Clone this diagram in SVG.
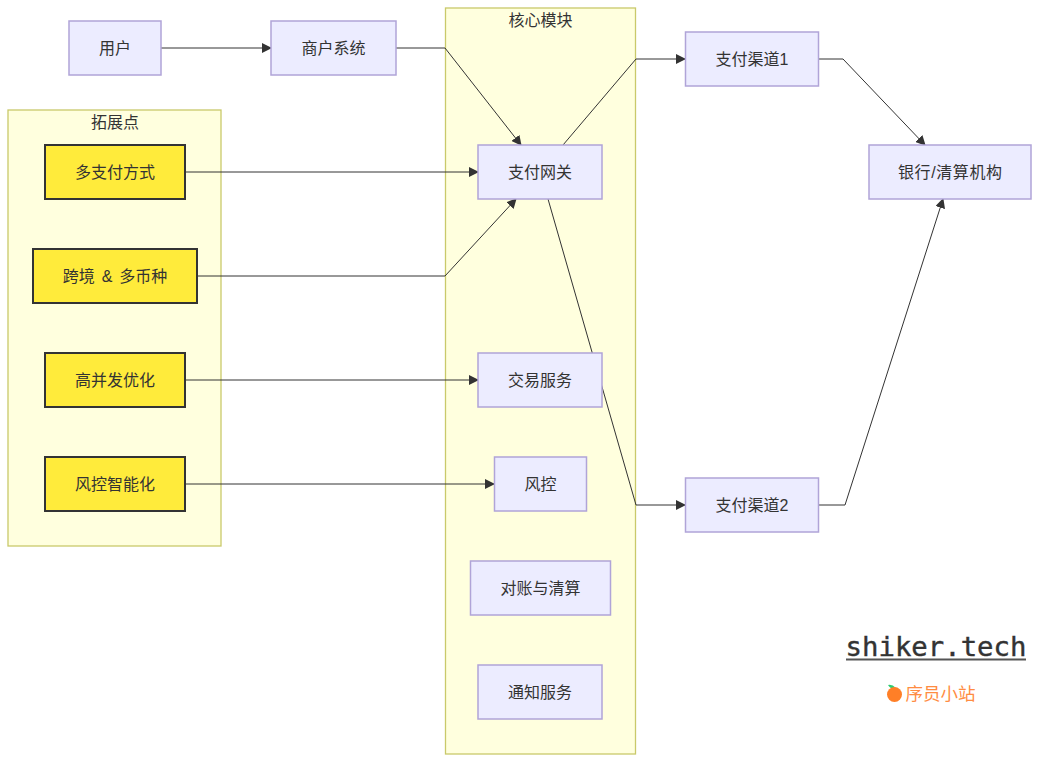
<svg xmlns="http://www.w3.org/2000/svg" width="1040" height="762" viewBox="0 0 1040 762">
<style>
text{font-family:"Liberation Sans","Noto Sans CJK SC",sans-serif;font-size:16px;fill:#333;text-anchor:middle;dominant-baseline:central}
.cluster{fill:#ffffde;stroke:#c9c96a;stroke-width:1.3}
.n rect{fill:#ececff;stroke:#b0a4d8;stroke-width:1.5}
.y rect{fill:#ffeb3b;stroke:#333;stroke-width:2}
.c path{fill:none;stroke:#333;stroke-width:1;marker-end:url(#arrow)}
</style>
<defs>
<marker id="arrow" markerUnits="userSpaceOnUse" markerWidth="10" markerHeight="10" refX="9" refY="5" orient="auto"><path d="M0 0L10 5L0 10Z" fill="#333"/></marker>
</defs>
<rect width="1040" height="762" fill="#fff"/>
<g id="cluster-ext"><rect class="cluster" x="8" y="110" width="213" height="436"/><text x="115" y="122">拓展点</text></g>
<g id="cluster-core"><rect class="cluster" x="445.500" y="8" width="190" height="746"/><text x="540.500" y="20">核心模块</text></g>
<g id="connectors" class="c">
<path d="M161 48H271"/>
<path d="M396 48H445L521 145"/>
<path d="M563 145L636 59H685"/>
<path d="M548 199L636 505H685"/>
<path d="M819 59H843L925 145"/>
<path d="M819 505H845L943 199"/>
<path d="M186 172H478"/>
<path d="M197 276H445L516 199"/>
<path d="M186 380H478"/>
<path d="M186 484H494"/>
</g>
<g id="user" class="n"><rect x="69" y="21" width="92" height="54"/><text x="115" y="48">用户</text></g>
<g id="merchant" class="n"><rect x="271" y="21" width="125" height="54"/><text x="333.500" y="48">商户系统</text></g>
<g id="gateway" class="n"><rect x="478" y="145" width="124" height="54"/><text x="540" y="172">支付网关</text></g>
<g id="trade" class="n"><rect x="478" y="353" width="124" height="54"/><text x="540" y="380">交易服务</text></g>
<g id="risk" class="n"><rect x="494.500" y="457" width="92" height="54"/><text x="540.500" y="484">风控</text></g>
<g id="reconcile" class="n"><rect x="470.500" y="561" width="140" height="54"/><text x="540.500" y="588">对账与清算</text></g>
<g id="notify" class="n"><rect x="478" y="665" width="124" height="54"/><text x="540" y="692">通知服务</text></g>
<g id="channel1" class="n"><rect x="685.500" y="32" width="133" height="54"/><text x="752" y="59">支付渠道1</text></g>
<g id="channel2" class="n"><rect x="685.500" y="478" width="133" height="54"/><text x="752" y="505">支付渠道2</text></g>
<g id="bank" class="n"><rect x="869" y="145" width="162" height="54"/><text x="950" y="172" textLength="104" lengthAdjust="spacing">银行/清算机构</text></g>
<g id="multi-pay" class="y"><rect x="45" y="145" width="140" height="54"/><text x="115" y="172">多支付方式</text></g>
<g id="cross-border" class="y"><rect x="33" y="249" width="164" height="54"/><text x="115" y="276" style="word-spacing:2.500px">跨境 &amp; 多币种</text></g>
<g id="high-concurrency" class="y"><rect x="45" y="353" width="140" height="54"/><text x="115" y="380">高并发优化</text></g>
<g id="risk-ai" class="y"><rect x="45" y="457" width="140" height="54"/><text x="115" y="484">风控智能化</text></g>
<g id="watermark">
<text x="936" y="646.500" style="font-family:'DejaVu Sans Mono',monospace;font-size:27.300px;fill:#333;stroke:#333;stroke-width:.4">shiker.tech</text>
<rect x="846" y="658.500" width="180" height="2" fill="#555"/>
<path d="M888 685Q892 684 896 688Q891 690 888 685Z" fill="#2ecc71"/>
<circle cx="894.500" cy="694.500" r="7.500" fill="#ff7f27"/>
<text x="940.500" y="694" style="font-size:17.500px;fill:#ff8c42">序员小站</text>
</g>
</svg>
